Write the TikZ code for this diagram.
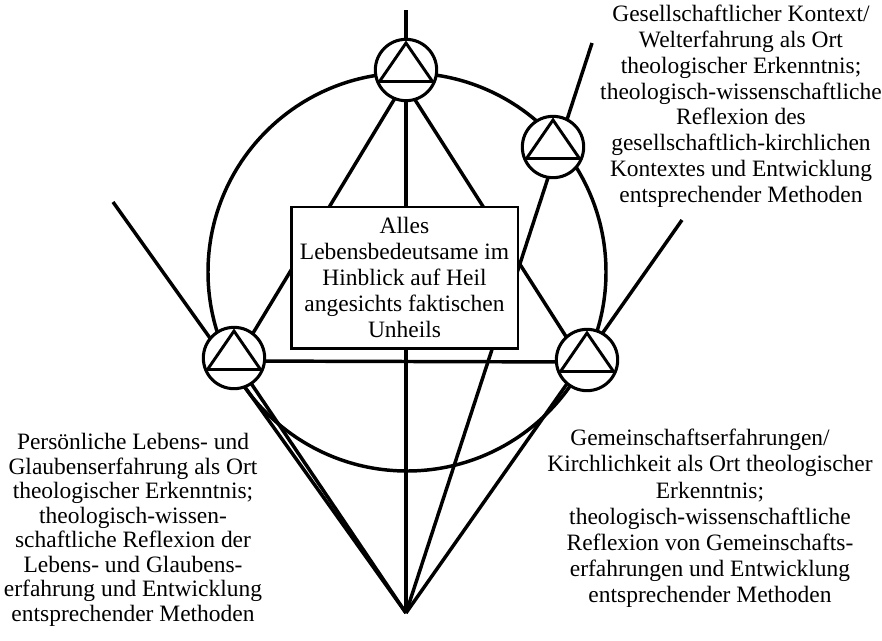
\documentclass[tikz,border=0pt]{standalone}
\usepackage{fontspec}
\setmainfont{Liberation Serif}
\usetikzlibrary{backgrounds}

\begin{document}
\begin{tikzpicture}[x=0.75pt,y=-0.75pt,
  linie/.style={line width=2.6pt},
  ort/.style={circle,draw,line width=2.3pt,fill=white,minimum size=46pt,inner sep=0pt,outer sep=0pt},
  dreieck/.style={line width=2.2pt},
  kasten/.style={draw,line width=2pt,fill=white,minimum width=170pt,minimum height=106pt,
    align=center,inner sep=0pt,font=\fontsize{17.6}{19.5}\selectfont},
  beschr/.style={align=center,anchor=north,inner sep=0pt}]
  \useasboundingbox (0,0) rectangle (882,640);

  % Mitte und die vier Orte
  \node[kasten] (mitte) at (404.5,277.5) {Alles\\Lebensbedeutsame im\\Hinblick auf Heil\\angesichts faktischen\\Unheils};
  \node[ort] (oben) at (406,70) {};
  \node[ort] (links) at (234,358) {};
  \node[ort] (rechts) at (587,360) {};
  \node[ort] (rechtsoben) at (553,147) {};
  \foreach \n in {oben,links,rechts,rechtsoben}
    \draw[dreieck] ([shift={(0,-27)}]\n.center) -- ([shift={(26.5,11.5)}]\n.center)
      -- ([shift={(-26.5,11.5)}]\n.center) -- cycle;

  \coordinate (kreis) at (407,272);
  \coordinate (spitze) at (406,613);
  \coordinate (endoben) at (406,10);
  \coordinate (endlinks) at (113,202);
  \coordinate (endrechts) at (682,220);
  \coordinate (endro) at (592,43);

  \begin{scope}[on background layer]
    \draw[linie] (kreis) circle[radius=149.25pt];
    \draw[linie] (endoben) -- (spitze);
    \draw[linie] ([shift={(6,0)}]oben.center) -- ([shift={(4,0)}]links.center);
    \draw[linie] ([shift={(-10,0)}]oben.center) -- ([shift={(-6,0)}]rechts.center);
    \draw[linie] ([shift={(0,3)}]links.center) -- ([shift={(0,2)}]rechts.center);
    \draw[linie] (endlinks) -- (spitze);
    \draw[linie] (links.center) -- (spitze);
    \draw[linie] (endrechts) -- (spitze);
    \draw[linie] (endro) -- (spitze);
  \end{scope}

  % Beschriftungen
  \node[beschr,font=\fontsize{17.6}{19.35}\selectfont] (tgesell) at (741,5)
    {Gesellschaftlicher Kontext/\\Welterfahrung als Ort\\theologischer Erkenntnis;\\theologisch-wissenschaftliche\\Reflexion des\\gesellschaftlich-kirchlichen\\Kontextes und Entwicklung\\entsprechender Methoden};
  \node[beschr,font=\fontsize{17.6}{18.4}\selectfont] (tperson) at (133,433)
    {Persönliche Lebens- und\\Glaubenserfahrung als Ort\\theologischer Erkenntnis;\\theologisch-wissen-\\schaftliche Reflexion der\\Lebens- und Glaubens-\\erfahrung und Entwicklung\\entsprechender Methoden};
  \node[beschr,font=\fontsize{17.6}{19.65}\selectfont] (tgemein) at (710,429)
    {Gemeinschaftserfahrungen/\hspace*{15pt}\\Kirchlichkeit als Ort theologischer\\Erkenntnis;\hspace*{25pt}\\theologisch-wissenschaftliche\\Reflexion von Gemeinschafts-\\erfahrungen und Entwicklung\\entsprechender Methoden};
\end{tikzpicture}
\end{document}
